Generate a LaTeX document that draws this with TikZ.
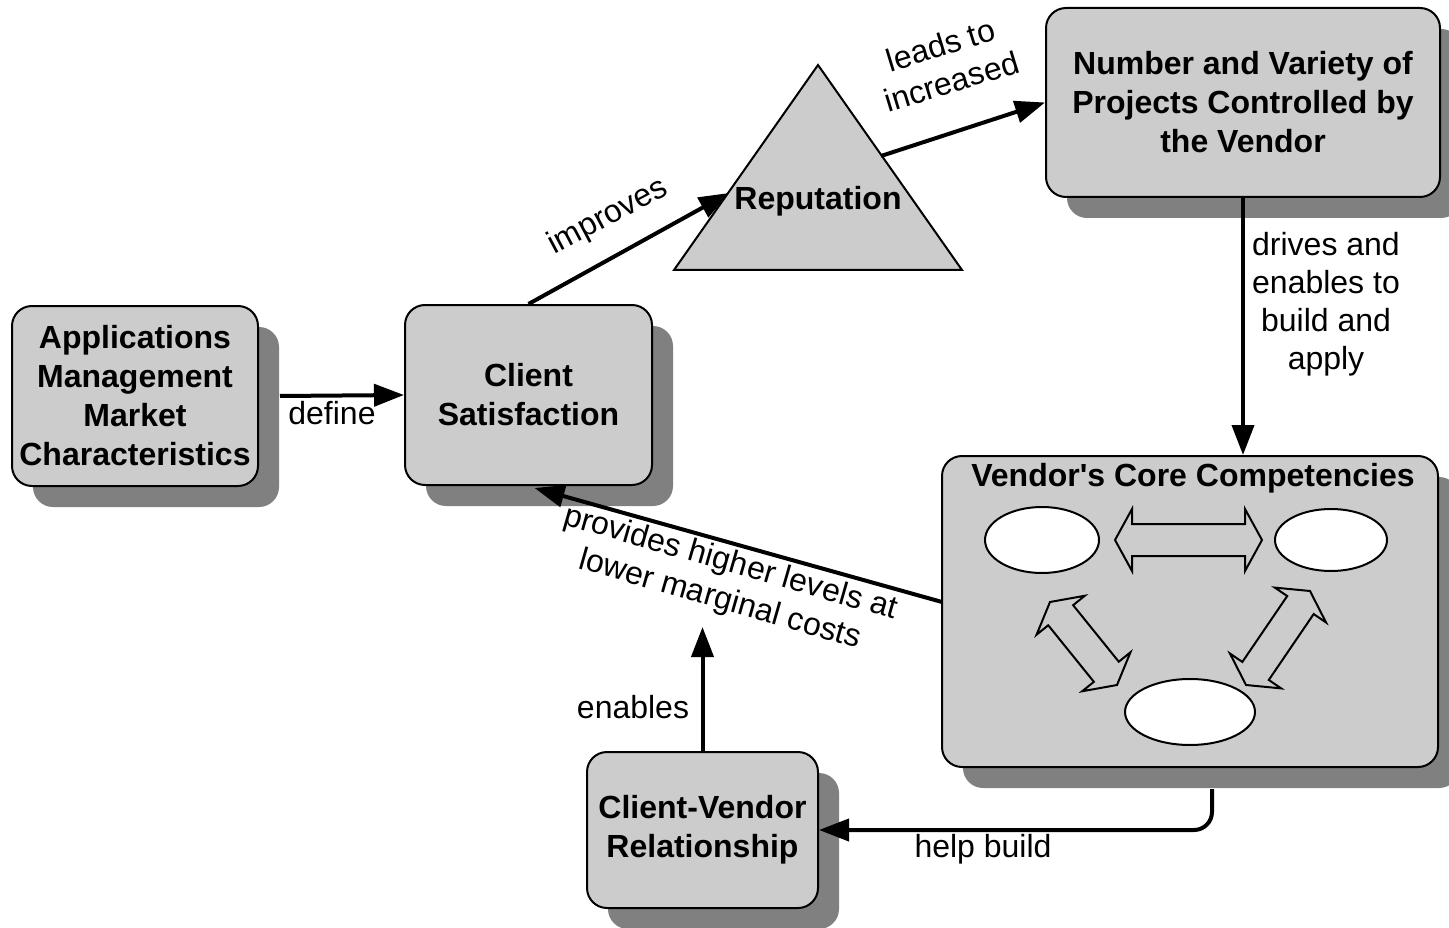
\documentclass[tikz,border=0pt]{standalone}
\usepackage{fontspec}
\setmainfont{Liberation Sans}
\usetikzlibrary{arrows.meta,calc,shadows}
\definecolor{boxgray}{RGB}{204,204,204}
\definecolor{shadowgray}{RGB}{128,128,128}
\newcommand\hollowdbl[2]{%
  \coordinate (hb1) at ($(#1)!17pt!(#2)$);
  \coordinate (hb2) at ($(#2)!17pt!(#1)$);
  \draw[dblarrow] (#1) -- ($(hb1)!31pt!90:(#2)$) -- ($(hb1)!16pt!90:(#2)$)
     -- ($(hb2)!16pt!-90:(#1)$) -- ($(hb2)!31pt!-90:(#1)$) -- (#2)
     -- ($(hb2)!31pt!90:(#1)$) -- ($(hb2)!16pt!90:(#1)$)
     -- ($(hb1)!16pt!-90:(#2)$) -- ($(hb1)!31pt!-90:(#2)$) -- cycle;}
\begin{document}
\begin{tikzpicture}[x=1pt,y=-1pt,
  box/.style={draw=black, line width=2pt, fill=boxgray, rounded corners=20pt,
    inner sep=0pt, align=center, font=\fontsize{32}{39}\selectfont\bfseries,
    drop shadow={shadow xshift=21pt, shadow yshift=-21pt, fill=shadowgray, opacity=1}},
  conn/.style={line width=4pt, -{Triangle[length=30pt,width=22pt]}},
  lbl/.style={font=\fontsize{32}{38}\selectfont, align=center, inner sep=0pt},
  ttl/.style={font=\fontsize{32}{39}\selectfont\bfseries, align=center, inner sep=0pt},
  dblarrow/.style={draw=black, line width=2pt, fill=boxgray, line join=miter}]
\useasboundingbox (0,0) rectangle (1449,928);

% boxes
\node[box, minimum width=246pt, minimum height=180pt] (ammc) at (135,396)
  {Applications\\Management\\Market\\Characteristics};
\node[box, minimum width=247pt, minimum height=180pt] (cs) at (528.5,395)
  {Client\\Satisfaction};
\node[box, minimum width=394pt, minimum height=189pt] (num) at (1243,102.5)
  {Number and Variety of\\Projects Controlled by\\the Vendor};
\node[box, minimum width=496pt, minimum height=311pt] (vcc) at (1190,611.5) {};
\node[ttl] (vcctitle) at (1193,478) {Vendor\textquotesingle s Core Competencies};
\node[box, minimum width=231pt, minimum height=156pt] (cvr) at (702.5,830)
  {Client-Vendor\\Relationship};

% triangle
\coordinate (tapex) at (818,65);
\coordinate (tright) at (962,270);
\coordinate (tleft) at (674,270);
\draw[line width=2pt, fill=boxgray, line join=miter] (tapex) -- (tright) -- (tleft) -- cycle;
\node[ttl] (rep) at (818,201) {Reputation};
\coordinate (repin) at (729,193);
\coordinate (repout) at (881,156);

% ovals inside competencies
\draw[line width=2pt, fill=white] (1042,540) ellipse [x radius=57, y radius=33];
\draw[line width=2pt, fill=white] (1331,540) ellipse [x radius=56, y radius=31];
\draw[line width=2pt, fill=white] (1190,712) ellipse [x radius=65, y radius=33];
\coordinate (ha) at (1115,540);
\coordinate (hb) at (1262,540);
\coordinate (la) at (1050,602);
\coordinate (lb) at (1117,685);
\coordinate (ra) at (1246,685);
\coordinate (rb) at (1310,591);
\hollowdbl{ha}{hb}
\hollowdbl{la}{lb}
\hollowdbl{ra}{rb}

% connectors
\draw[conn] ([xshift=21pt]ammc.east) -- (cs.west);
\node[lbl] (ldefine) at (332,413) {define};

\draw[conn] (cs.north) -- (repin);
\node[lbl, rotate=28] (limproves) at (608,217) {improves};

\draw[conn] (repout) -- (num.west);
\node[lbl, rotate=17] (lleads) at (946,63) {leads to\\increased};

\draw[conn] (num.south) -- (num.south |- vcc.north);
\node[lbl] (ldrives) at (1326,304) {drives and\\enables to\\build and\\apply};

\coordinate (provstart) at (942,602);
\draw[conn] (provstart) -- ([xshift=6pt,yshift=-2pt]cs.south);
\node[lbl, rotate=-16] (lprov) at (725,582) {provides higher levels at\\lower marginal costs};

\coordinate (enend) at (702.5,627);
\draw[conn] (cvr.north) -- (enend);
\node[lbl] (lenables) at (633,707) {enables};

\draw[conn, rounded corners=18pt] ([xshift=22pt,yshift=-21pt]vcc.south) |- (cvr.east);
\node[lbl] (lhelp) at (983,849) {help build};
\end{tikzpicture}
\end{document}
